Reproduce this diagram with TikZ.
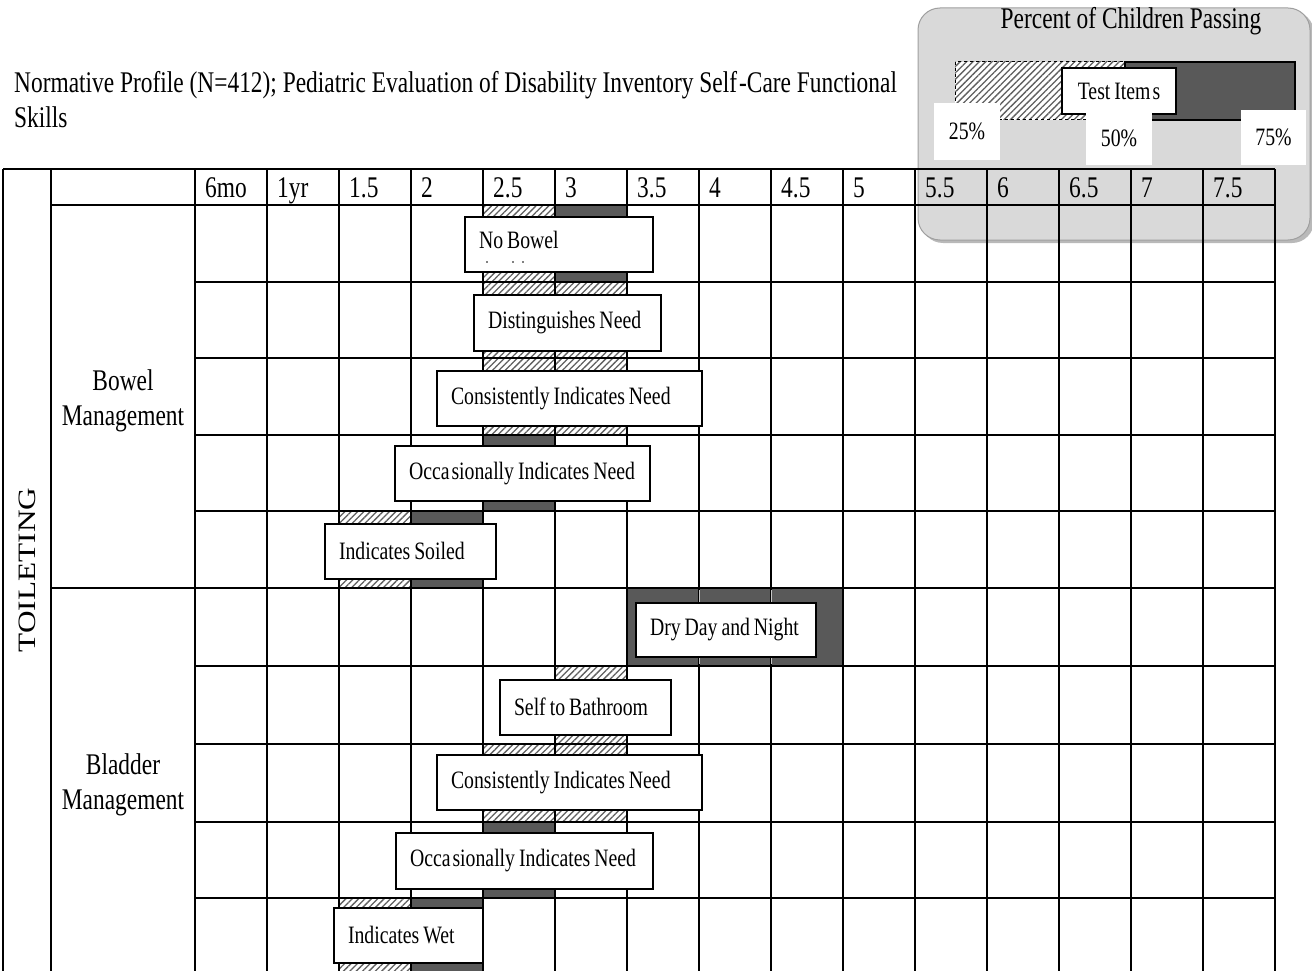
\documentclass[tikz,border=0pt]{standalone}
\usepackage{fontspec}
\setmainfont{Liberation Serif}[FakeStretch=0.78]
\newfontfamily\cellfam{Liberation Serif}[FakeStretch=0.79,WordSpace=0.8]
\newfontfamily\rotfont{Liberation Serif}[FakeStretch=1.25]
\usetikzlibrary{patterns.meta}
\definecolor{darkbar}{RGB}{89,89,89}
\definecolor{legendgrey}{RGB}{217,217,217}
\definecolor{hatchcol}{RGB}{95,95,95}
\newcommand\bigfont{\fontsize{30}{35}\selectfont}
\newcommand\cellfont{\cellfam\fontsize{25}{30}\selectfont}
\newcommand\drawItem[7][]{%
  \pgfmathsetmacro\itw{#5-#3-28}%
  \pgfmathsetmacro\ith{#6-#4}%
  \node[itembox,#1,text width=\itw pt,minimum height=\ith pt] (#2) at ({(#3+#5)/2},{(#4+#6)/2}) {\mbox{\spaceskip=0pt\relax #7}};}
\begin{document}
\begin{tikzpicture}[x=1pt,y=-1pt,
  hatchbar/.style={pattern={Lines[angle=45,distance=4.5pt,line width=1.3pt]},pattern color=hatchcol},
  darkfill/.style={fill=darkbar},
  gridline/.style={line width=1.4pt,black},
  itembox/.style={draw=black,line width=1.4pt,fill=white,inner xsep=14pt,inner ysep=0pt,align=left,font=\cellfont,anchor=center},
  hdr/.style={anchor=base west,inner sep=0pt,font=\bigfont},
  pct/.style={fill=white,font=\cellfont,inner sep=0pt}]
\fill[white] (0,0) rectangle (1312,971);
\useasboundingbox (0,0) rectangle (1312,971);
% legend background
\fill[gray!55,rounded corners=22pt] (921,11) rectangle (1314,243);
\draw[fill=legendgrey,draw=gray!75,line width=1pt,rounded corners=22pt] (918,8) rectangle (1310,240);
% bars
\fill[hatchbar] (483,205) rectangle (555,282);
\fill[darkfill] (555,205) rectangle (627,282);
\fill[hatchbar] (483,282) rectangle (627,358);
\fill[hatchbar] (483,358) rectangle (627,435);
\fill[darkfill] (483,435) rectangle (555,511);
\fill[hatchbar] (339,511) rectangle (411,588);
\fill[darkfill] (411,511) rectangle (483,588);
\fill[darkfill] (627,588) rectangle (843,666);
\fill[hatchbar] (555,666) rectangle (627,744);
\fill[hatchbar] (483,744) rectangle (627,822);
\fill[darkfill] (483,822) rectangle (555,898);
\fill[hatchbar] (339,898) rectangle (411,975);
\fill[darkfill] (411,898) rectangle (483,975);
% grid
\foreach \x in {195,267,...,1275} \draw[gridline] (\x,169) -- (\x,975);
\draw[gridline] (3,169) -- (3,975);
\draw[gridline] (51,169) -- (51,975);
\draw[gridline] (3,169) -- (1275,169);
\draw[gridline] (51,205) -- (1275,205);
\draw[gridline] (51,588) -- (1275,588);
\foreach \y in {282,358,435,511,666,744,822,898} \draw[gridline] (195,\y) -- (1275,\y);
\draw[line width=1pt,gray!45] (699,590) -- (699,664) (771,590) -- (771,664);
% header labels
\foreach \lab [count=\i from 0] in {6mo,1yr,1.5,2,2.5,3,3.5,4,4.5,5,5.5,6,6.5,7,7.5}
  \node[hdr] (h\i) at ({195+72*\i+10},197) {\lab};
% section labels
\node[font=\bigfont,align=center,inner sep=0pt] (bowel) at (123,401) {Bowel\\Management};
\node[font=\bigfont,align=center,inner sep=0pt] (bladder) at (123,785) {Bladder\\Management};
\node[font=\rotfont\fontsize{25}{30}\selectfont,rotate=90,inner sep=0pt] (toil) at (27,570) {TOILETING};
% title
\node[font=\bigfont,align=left,anchor=north west,inner sep=0pt] (title) at (14,71)
  {Normative Profile (N=412); Pediatric Evaluation of Disability Inventory Self\kern2pt-Care Functional\\Skills};
% item boxes
\drawItem[text depth=10pt]{b0}{465}{217}{653}{272}{No Bowel}
\fill (487,262) circle (0.9) (513,262) circle (0.9) (523,262) circle (0.9);
\drawItem{b1}{474}{295}{661}{351}{Distinguishes Need}
\drawItem{b2}{437}{371}{702}{426}{Consistently Indicates Need}
\drawItem{b3}{395}{446}{650}{501}{Occa\kern2pt sionally Indicates Need}
\drawItem[text depth=2pt]{b4}{325}{524}{496}{579}{Indicates Soiled}
\drawItem{b5}{636}{603}{816}{657}{Dry Day and Night}
\drawItem[text depth=2pt]{b6}{500}{680}{671}{735}{Self to Bathroom}
\drawItem{b7}{437}{755}{702}{810}{Consistently Indicates Need}
\drawItem{b8}{396}{833}{653}{889}{Occa\kern2pt sionally Indicates Need}
\drawItem[text depth=2pt]{b9}{334}{908}{483}{963}{Indicates Wet}
% legend
\node[font=\bigfont,anchor=base,inner sep=0pt] (ltitle) at (1131,29) {Percent of Children Passing};
\fill[white] (955,62) rectangle (1125,120);
\fill[hatchbar] (955,62) rectangle (1125,120);
\draw[line width=1pt,dashed] (955,62) rectangle (1125,120);
\draw[fill=darkbar,line width=1.4pt] (1125,62) rectangle (1295,120);
\node[draw,fill=white,line width=1.4pt,minimum width=114,minimum height=46,inner sep=0pt,font=\cellfont] (test) at (1119,91) {Test Item\kern2pt s};
\node[pct,minimum width=66,minimum height=57] (p25) at (967,131.5) {25\%};
\node[pct,minimum width=66,minimum height=53] (p50) at (1119,138.5) {50\%};
\node[pct,minimum width=65,minimum height=55] (p75) at (1273.5,137.5) {75\%};
\end{tikzpicture}
\end{document}
